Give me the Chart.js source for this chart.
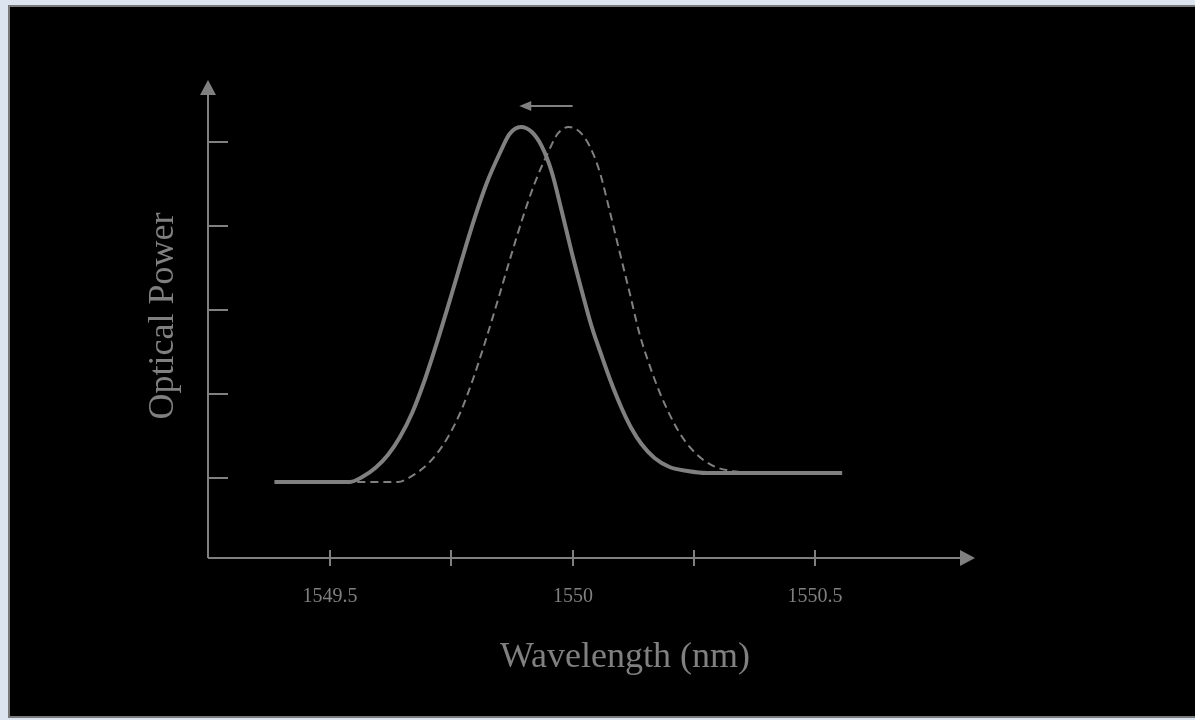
<!DOCTYPE html>
<html>
<head>
<meta charset="utf-8">
<script src="https://cdn.jsdelivr.net/npm/chart.js@4/dist/chart.umd.min.js"></script>
<style>
  html, body { margin: 0; padding: 0; }
  body { width: 1195px; height: 720px; background: #dbe4ef; overflow: hidden; position: relative; }
  .frame {
    position: absolute; left: 8px; top: 5px;
    width: 1195px; height: 709px;
    border: 2px solid #7a7a7a; background: #000;
  }
  #chart { position: absolute; left: 0; top: 0; }
</style>
</head>
<body>
<div class="frame"></div>
<canvas id="chart" width="1195" height="720"></canvas>
<script>
// shifted spectrum (solid)
const solidWl = [1549.385, 1549.541, 1549.566, 1549.593, 1549.619, 1549.644, 1549.669, 1549.695,
  1549.720, 1549.747, 1549.772, 1549.798, 1549.823, 1549.850, 1549.870, 1549.893, 1549.916,
  1549.936, 1549.957, 1549.977, 1549.998, 1550.019, 1550.039, 1550.060, 1550.080, 1550.101,
  1550.121, 1550.142, 1550.169, 1550.200, 1550.237, 1550.276, 1550.556];
const solidPow = [0.955, 0.955, 1.014, 1.121, 1.276, 1.490, 1.776, 2.169,
  2.610, 3.121, 3.610, 4.098, 4.514, 4.871, 5.098, 5.181, 5.121,
  4.955, 4.645, 4.193, 3.693, 3.229, 2.812, 2.455, 2.133, 1.836,
  1.598, 1.407, 1.240, 1.133, 1.086, 1.062, 1.062];

// original spectrum (dashed)
const dashWl = [1549.556, 1549.640, 1549.665, 1549.692, 1549.718, 1549.743, 1549.768, 1549.794,
  1549.819, 1549.846, 1549.871, 1549.897, 1549.922, 1549.949, 1549.969, 1549.992, 1550.015,
  1550.035, 1550.056, 1550.076, 1550.097, 1550.118, 1550.138, 1550.159, 1550.179, 1550.200,
  1550.220, 1550.241, 1550.268, 1550.299, 1550.336, 1550.375];
const dashPow = [0.955, 0.955, 1.014, 1.121, 1.276, 1.490, 1.776, 2.169,
  2.610, 3.121, 3.610, 4.098, 4.514, 4.871, 5.098, 5.181, 5.121,
  4.955, 4.645, 4.193, 3.693, 3.200, 2.720, 2.340, 2.030, 1.760,
  1.545, 1.375, 1.225, 1.125, 1.080, 1.062];

const xTicks = [1549.5, 1549.75, 1550, 1550.25, 1550.5];
const xTickLabels = ["1549.5", "", "1550", "", "1550.5"];
const yTicks = [1, 2, 3, 4, 5];

// shift arrow above the peaks
const shiftArrowWl = [1550.0, 1549.89];
const shiftArrowPow = 5.43;

const gray = "#808080";

function toPoints(xs, ys){
  return xs.map((x,i)=>({x:x, y:ys[i]}));
}

const axesPlugin = {
  id: "arrowAxes",
  afterDraw(chart){
    const ctx = chart.ctx;
    const xs = chart.scales.x;
    const ys = chart.scales.y;
    const area = chart.chartArea;
    const x0 = area.left, y0 = area.bottom;

    ctx.save();
    ctx.strokeStyle = gray;
    ctx.fillStyle = gray;
    ctx.lineWidth = 2;

    // axis lines
    ctx.beginPath();
    ctx.moveTo(x0, y0);
    ctx.lineTo(x0, area.top + 12);
    ctx.moveTo(x0, y0);
    ctx.lineTo(area.right - 12, y0);
    ctx.stroke();

    // arrow heads
    ctx.beginPath();
    ctx.moveTo(x0, area.top);
    ctx.lineTo(x0 - 8, area.top + 15);
    ctx.lineTo(x0 + 8, area.top + 15);
    ctx.closePath();
    ctx.fill();
    ctx.beginPath();
    ctx.moveTo(area.right, y0);
    ctx.lineTo(area.right - 15, y0 - 8);
    ctx.lineTo(area.right - 15, y0 + 8);
    ctx.closePath();
    ctx.fill();

    // y ticks (inward)
    yTicks.forEach(v=>{
      const py = Math.round(ys.getPixelForValue(v));
      ctx.beginPath();
      ctx.moveTo(x0, py);
      ctx.lineTo(x0 + 20, py);
      ctx.stroke();
    });

    // x ticks (crossing) + labels
    ctx.font = "20px 'Liberation Serif', 'Times New Roman', serif";
    ctx.textAlign = "center";
    ctx.textBaseline = "alphabetic";
    xTicks.forEach((v,i)=>{
      const px = Math.round(xs.getPixelForValue(v));
      ctx.beginPath();
      ctx.moveTo(px, y0 - 8);
      ctx.lineTo(px, y0 + 8);
      ctx.stroke();
      if(xTickLabels[i]) ctx.fillText(xTickLabels[i], px, y0 + 44);
    });

    // axis titles
    ctx.font = "36px 'Liberation Serif', 'Times New Roman', serif";
    ctx.fillText("Wavelength (nm)", 625, 667);
    ctx.save();
    ctx.translate(173, 316);
    ctx.rotate(-Math.PI/2);
    ctx.fillText("Optical Power", 0, 0);
    ctx.restore();

    // shift arrow
    const ax1 = xs.getPixelForValue(shiftArrowWl[0]);
    const ax2 = xs.getPixelForValue(shiftArrowWl[1]);
    const ay = ys.getPixelForValue(shiftArrowPow);
    ctx.beginPath();
    ctx.moveTo(ax1, ay);
    ctx.lineTo(ax2 + 10, ay);
    ctx.stroke();
    ctx.beginPath();
    ctx.moveTo(ax2, ay);
    ctx.lineTo(ax2 + 12, ay - 5);
    ctx.lineTo(ax2 + 12, ay + 5);
    ctx.closePath();
    ctx.fill();

    ctx.restore();
  }
};

new Chart(document.getElementById("chart"), {
  type: "line",
  data: {
    datasets: [
      {
        label: "original",
        data: toPoints(dashWl, dashPow),
        borderColor: gray,
        borderWidth: 2,
        borderDash: [8, 5],
        pointRadius: 0,
        cubicInterpolationMode: "monotone",
        fill: false
      },
      {
        label: "shifted",
        data: toPoints(solidWl, solidPow),
        borderColor: gray,
        borderWidth: 4,
        pointRadius: 0,
        cubicInterpolationMode: "monotone",
        fill: false
      }
    ]
  },
  options: {
    responsive: false,
    animation: false,
    layout: { padding: { left: 208, right: 220, top: 80, bottom: 162 } },
    plugins: { legend: { display: false }, tooltip: { enabled: false } },
    scales: {
      x: { type: "linear", display: false, min: 1549.248, max: 1550.83 },
      y: { type: "linear", display: false, min: 0.05, max: 5.74 }
    }
  },
  plugins: [axesPlugin]
});
</script>
</body>
</html>
